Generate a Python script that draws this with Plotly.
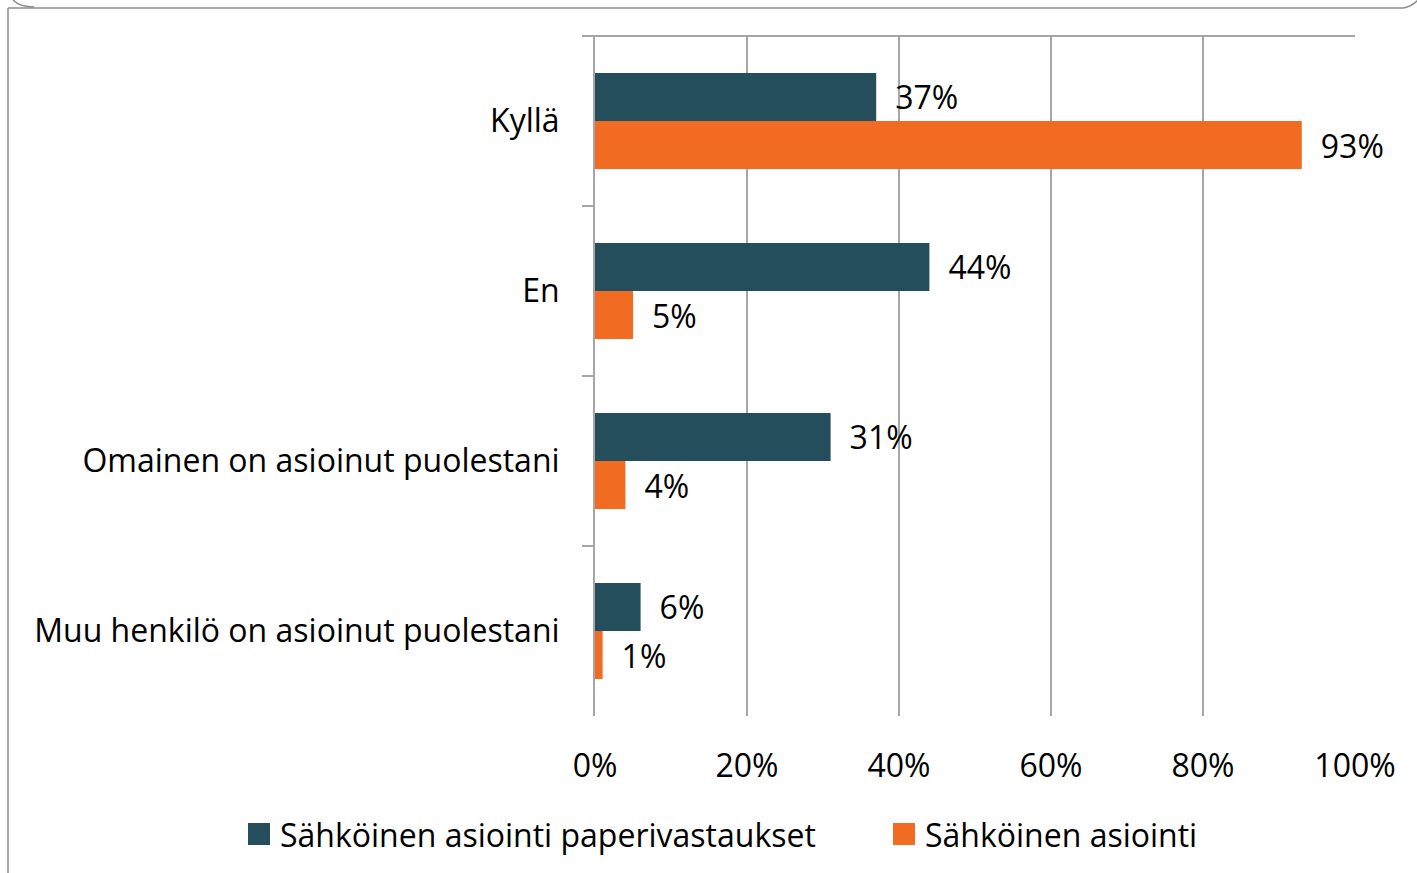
import plotly.graph_objects as go

# ---- data ----
categories = ["Kyllä", "En", "Omainen on asioinut puolestani",
              "Muu henkilö on asioinut puolestani"]
series_names = ["Sähköinen asiointi paperivastaukset", "Sähköinen asiointi"]
paper_values = [37, 44, 31, 6]
electronic_values = [93, 5, 4, 1]
x_tick_values = [0, 20, 40, 60, 80, 100]
x_tick_labels = ["0%", "20%", "40%", "60%", "80%", "100%"]
series_colors = ["#244E5C", "#F26B23"]

# ---- layout geometry (pixels) ----
W, H = 1417, 873
L, R, T, B = 595, 1355, 36, 716
FONT = "Open Sans"
FS = 32
GRID = "#A6A6A6"
FRAME = "#8C8C8C"


def px(x):
    return (x - L) / (R - L)


def py(y):
    return (B - y) / (B - T)


fig = go.Figure()
for name, vals, col in zip(series_names, [paper_values, electronic_values], series_colors):
    fig.add_trace(go.Bar(
        y=categories, x=vals, name=name, orientation="h",
        marker=dict(color=col, line=dict(width=0)),
        texttemplate="\u2002%{x}%", textposition="outside",
        textfont=dict(family=FONT, size=FS, color="#000000"),
        constraintext="none", cliponaxis=False, showlegend=False,
    ))

shapes = []
# top border of plot area
shapes.append(dict(type="line", xref="paper", yref="paper", x0=px(584), x1=1, y0=1, y1=1,
                   line=dict(color=GRID, width=2)))
# outer frame
shapes.append(dict(type="line", xref="paper", yref="paper", x0=px(8), x1=px(8), y0=py(8), y1=py(880),
                   line=dict(color=FRAME, width=1.5)))
shapes.append(dict(type="line", xref="paper", yref="paper", x0=px(8), x1=px(1403), y0=py(8), y1=py(8),
                   line=dict(color=FRAME, width=1.5)))
shapes.append(dict(type="path", xref="paper", yref="paper",
                   path=f"M {px(13)},{py(0)} Q {px(20)},{py(7)} {px(34)},{py(7)}",
                   line=dict(color=FRAME, width=1.5)))
shapes.append(dict(type="path", xref="paper", yref="paper",
                   path=f"M {px(1403)},{py(8)} Q {px(1411)},{py(7)} {px(1418)},{py(0)}",
                   line=dict(color=FRAME, width=1.5)))

# custom legend
annotations = []
legend_pos = [(248, 278), (893, 923)]
for (sx, tx), name, col in zip(legend_pos, series_names, series_colors):
    shapes.append(dict(type="rect", xref="paper", yref="paper",
                       x0=px(sx), x1=px(sx + 22), y0=py(845), y1=py(823),
                       fillcolor=col, line=dict(width=0)))
    annotations.append(dict(xref="paper", yref="paper", x=px(tx), y=py(834),
                            xanchor="left", yanchor="middle", text=name, showarrow=False,
                            font=dict(family=FONT, size=FS, color="#000000")))

fig.update_layout(
    width=W, height=H,
    margin=dict(l=L, r=W - R, t=T, b=H - B, pad=0),
    paper_bgcolor="white", plot_bgcolor="white",
    barmode="group", bargap=0.435, bargroupgap=0,
    font=dict(family=FONT, size=FS, color="#000000"),
    shapes=shapes, annotations=annotations,
    showlegend=False,
    xaxis=dict(range=[0, 100], tickvals=x_tick_values, ticktext=x_tick_labels,
               showgrid=True, gridcolor=GRID, gridwidth=2, zeroline=False,
               showline=False, ticks="", ticklabelstandoff=28,
               tickfont=dict(family=FONT, size=FS, color="#000000"), fixedrange=True),
    yaxis=dict(autorange="reversed", showline=True, linecolor=GRID, linewidth=2,
               ticks="outside", tickson="boundaries", ticklen=11, tickcolor=GRID, tickwidth=2,
               showgrid=False, ticklabelstandoff=27,
               tickfont=dict(family=FONT, size=FS, color="#000000"), fixedrange=True),
)

fig.write_html("out.html", config={"displayModeBar": False},
               post_script="document.body.style.margin='0';")
